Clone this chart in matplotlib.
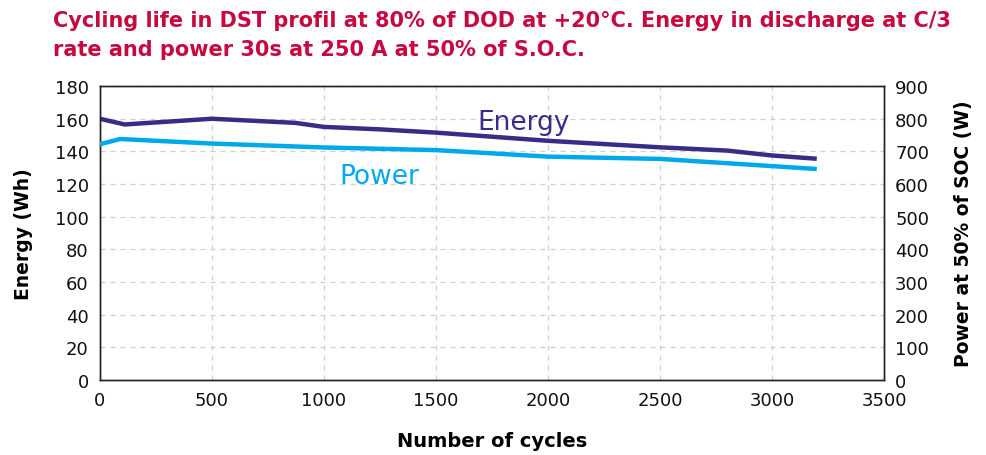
import matplotlib
matplotlib.use('Agg')
import matplotlib.pyplot as plt
from matplotlib import font_manager

# data
energy_cycles = [0, 110, 500, 870, 1000, 1250, 1500, 1700, 2000, 2500, 2800, 3000, 3200]
energy_wh = [160, 156.5, 160, 157.5, 155, 153.5, 151.5, 149.5, 146.5, 142.5, 140.5, 137.5, 135.5]
power_cycles = [0, 90, 500, 1000, 1500, 1700, 2000, 2500, 3000, 3200]
power_w = [722, 738, 724, 712, 704, 696, 684, 677, 655, 646]

x_ticks = [0, 500, 1000, 1500, 2000, 2500, 3000, 3500]
e_ticks = list(range(0, 181, 20))
p_ticks = list(range(0, 901, 100))

ENERGY_COL = '#372D86'
POWER_COL = '#00A9EA'
TITLE_COL = '#C8093F'

names = {f.name for f in font_manager.fontManager.ttflist}
narrow = 'Liberation Sans Narrow' if 'Liberation Sans Narrow' in names else 'DejaVu Sans'

fig = plt.figure(figsize=(9.87, 4.56), dpi=100)
ax = fig.add_axes([0.1013, 0.1645, 0.7943, 0.6445])
ax2 = ax.twinx()

ax.plot(energy_cycles, energy_wh, color=ENERGY_COL, lw=3.2, solid_capstyle='butt', zorder=3)
ax2.plot(power_cycles, power_w, color=POWER_COL, lw=3.2, solid_capstyle='butt', zorder=3)

ax.set_xlim(0, 3500)
ax.set_ylim(0, 180)
ax2.set_ylim(0, 900)
ax.set_xticks(x_ticks)
ax.set_yticks(e_ticks)
ax2.set_yticks(p_ticks)

ax.grid(True, color='#CFCFCF', ls=(0, (4, 4)), lw=0.9)
ax.set_axisbelow(True)
for a in (ax, ax2):
    a.tick_params(length=0, labelsize=13, colors='#111111', pad=8)
    for s in a.spines.values():
        s.set_color('#222222')
        s.set_linewidth(1.0)

ax.set_xlabel('Number of cycles', fontsize=14, fontweight='bold', family=narrow, labelpad=16)
ax.set_ylabel('Energy (Wh)', fontsize=13.5, fontweight='bold', labelpad=16)
ax2.set_ylabel('Power at 50% of SOC (W)', fontsize=13.5, fontweight='bold', labelpad=18)

ax.text(1685, 158, 'Energy', color=ENERGY_COL, fontsize=19, ha='left', va='center')
ax.text(1070, 125, 'Power', color=POWER_COL, fontsize=19, ha='left', va='center')

fig.text(0.0535, 0.955, 'Cycling life in DST profil at 80% of DOD at +20°C. Energy in discharge at C/3',
         color=TITLE_COL, fontsize=15, fontweight='bold', family=narrow, ha='left', va='center')
fig.text(0.0535, 0.89, 'rate and power 30s at 250 A at 50% of S.O.C.',
         color=TITLE_COL, fontsize=15, fontweight='bold', family=narrow, ha='left', va='center')

fig.savefig('out.png', dpi=100)
